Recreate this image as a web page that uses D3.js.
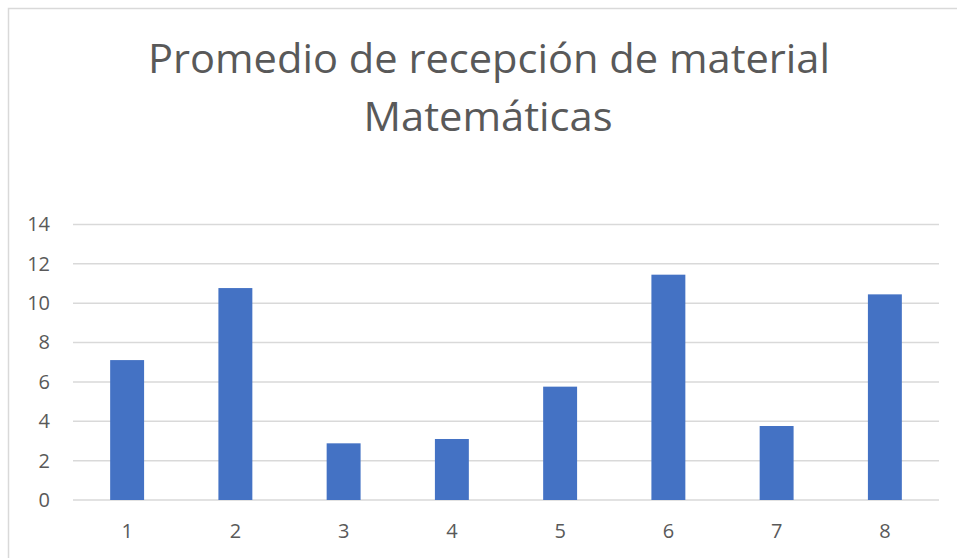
<!DOCTYPE html>
<html>
<head>
<meta charset="utf-8">
<script src="https://cdn.jsdelivr.net/npm/d3@7"></script>
<style>
  body { margin: 0; background: #fff; }
  text { font-family: "Open Sans", "Noto Sans", sans-serif; fill: #595959; }
</style>
</head>
<body>
<script>
// chart data
var categories = ["1", "2", "3", "4", "5", "6", "7", "8"];
var values = [7.11, 10.77, 2.88, 3.1, 5.76, 11.45, 3.76, 10.45];
var yTicks = [0, 2, 4, 6, 8, 10, 12, 14];
var titleLines = ["Promedio de recepción de material", "Matemáticas"];

var width = 957;
var height = 558;
var plotLeft = 73, plotRight = 939, plotTop = 224.5, plotBottom = 500;

var svg = d3.select("body").append("svg")
  .attr("width", width)
  .attr("height", height);

// chart area border (only left/top visible in the crop)
svg.append("path")
  .attr("d", "M8.5," + height + "V8.5H" + width)
  .attr("fill", "none")
  .attr("stroke", "#d9d9d9")
  .attr("stroke-width", 1.5);

var x = d3.scaleBand()
  .domain(categories)
  .range([plotLeft, plotRight])
  .paddingInner(0.6865)
  .paddingOuter(0.6865 / 2);

var y = d3.scaleLinear()
  .domain([0, 14])
  .range([plotBottom, plotTop]);

// gridlines
svg.append("g")
  .selectAll("line")
  .data(yTicks)
  .enter()
  .append("line")
  .attr("x1", plotLeft)
  .attr("x2", plotRight)
  .attr("y1", function(d) { return y(d); })
  .attr("y2", function(d) { return y(d); })
  .attr("stroke", "#d9d9d9")
  .attr("stroke-width", 1.5);

// y axis labels
var yAxis = d3.axisLeft(y).tickValues(yTicks).tickSize(0).tickPadding(23);
var gy = svg.append("g")
  .attr("transform", "translate(" + plotLeft + ",0)")
  .call(yAxis);
gy.select(".domain").remove();
gy.selectAll("text")
  .style("font-size", "20px")
  .attr("fill", "#595959");

// bars
svg.append("g")
  .selectAll("rect")
  .data(values)
  .enter()
  .append("rect")
  .attr("x", function(d, i) { return x(categories[i]); })
  .attr("width", x.bandwidth())
  .attr("y", function(d) { return y(d); })
  .attr("height", function(d) { return y(0) - y(d); })
  .attr("fill", "#4472c4");

// x axis labels
var xAxis = d3.axisBottom(x).tickSize(0).tickPadding(24);
var gx = svg.append("g")
  .attr("transform", "translate(0," + plotBottom + ")")
  .call(xAxis);
gx.select(".domain").remove();
gx.selectAll("text")
  .style("font-size", "20px")
  .attr("fill", "#595959");

// title
var title = svg.append("g");
title.append("text")
  .attr("x", 489)
  .attr("y", 73)
  .attr("text-anchor", "middle")
  .attr("textLength", 682)
  .attr("lengthAdjust", "spacingAndGlyphs")
  .style("font-size", "40px")
  .text(titleLines[0]);
title.append("text")
  .attr("x", 488)
  .attr("y", 131)
  .attr("text-anchor", "middle")
  .attr("textLength", 249)
  .attr("lengthAdjust", "spacingAndGlyphs")
  .style("font-size", "40px")
  .text(titleLines[1]);
</script>
</body>
</html>
